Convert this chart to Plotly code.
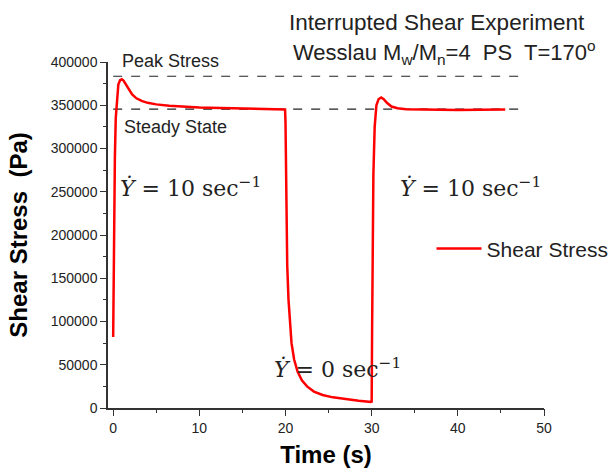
import plotly.graph_objects as go

time_s = [0, 0.05, 0.1, 0.2, 0.3, 0.45, 0.6, 0.8, 1.0, 1.2, 1.5, 1.8, 2.2, 2.7, 3.3, 4, 5, 6.5, 8, 10, 12.5, 15, 17.5, 19.95,
          20.0, 20.05, 20.1, 20.2, 20.35, 20.5, 20.7, 21.0, 21.4, 21.9, 22.5, 23.3, 24.3, 25.5, 27, 28.5, 29.95,
          30.0, 30.05, 30.12, 30.2, 30.35, 30.55, 30.8, 31.1, 31.4, 31.8, 32.3, 33, 34, 36, 38, 40, 42.5, 45.5]
stress_pa = [82000, 150000, 215000, 290000, 335000, 362000, 374000, 379000, 380000, 378500, 374000, 368500, 362500, 358000, 355000, 352800, 351000, 349500, 348500, 347500, 346700, 346100, 345600, 345200,
             330000, 270000, 220000, 165000, 125000, 97000, 75000, 56000, 42000, 32000, 25000, 19000, 15000, 12300, 10000, 8300, 7000,
             6500, 90000, 190000, 270000, 325000, 350000, 357000, 359000, 357000, 352500, 348500, 346500, 345500, 345000, 344700, 344600, 344700, 345000]

peak_stress = 383500
steady_state = 345500
ref_t = [0, 48]
x_range = [-0.6, 50]
y_range = [0, 400000]

fig = go.Figure()
fig.add_trace(go.Scatter(x=ref_t, y=[peak_stress, peak_stress], mode="lines",
                         line=dict(color="#222222", width=1.2, dash="dash"), showlegend=False, hoverinfo="skip"))
fig.add_trace(go.Scatter(x=ref_t, y=[steady_state, steady_state], mode="lines",
                         line=dict(color="#222222", width=1.2, dash="dash"), showlegend=False, hoverinfo="skip"))
fig.add_trace(go.Scatter(x=time_s, y=stress_pa, mode="lines", name="Shear Stress",
                         line=dict(color="#ff0000", width=2.5)))
# invisible traces to host the minor-tick overlay axes
fig.add_trace(go.Scatter(x=[time_s[0]], y=[stress_pa[0]], xaxis="x2", yaxis="y", mode="markers",
                         marker=dict(opacity=0), showlegend=False, hoverinfo="skip"))
fig.add_trace(go.Scatter(x=[time_s[0]], y=[stress_pa[0]], xaxis="x", yaxis="y2", mode="markers",
                         marker=dict(opacity=0), showlegend=False, hoverinfo="skip"))

axis_common = dict(showline=True, linecolor="#333333", linewidth=1.5, ticks="outside", ticklen=6,
                   tickcolor="#333333", tickwidth=1.3, showgrid=False, zeroline=False, tickformat="d",
                   tickfont=dict(family="Liberation Sans, Arial", size=14, color="#222222"))
minor_common = dict(showline=False, ticks="outside", ticklen=4, tickcolor="#333333", tickwidth=1.2,
                    showgrid=False, zeroline=False, showticklabels=False)

fig.update_layout(
    xaxis=dict(range=x_range, dtick=10, tick0=0,
               title=dict(text="<b>Time (s)</b>", font=dict(family="Liberation Sans, Arial", size=24, color="black"), standoff=12),
               **axis_common),
    yaxis=dict(range=y_range, dtick=50000, tick0=0,
               title=dict(text="<b>Shear Stress  (Pa)</b>", font=dict(family="Liberation Sans, Arial", size=24, color="black"), standoff=16),
               **axis_common),
    xaxis2=dict(overlaying="x", anchor="y", side="bottom", range=x_range, dtick=5, tick0=0, **minor_common),
    yaxis2=dict(overlaying="y", anchor="x", side="left", range=y_range, dtick=25000, tick0=0, **minor_common),
)

sans = dict(family="Liberation Sans, Arial", color="#222222")
serif = dict(family="DejaVu Serif, Liberation Serif", size=22, color="#222222")

annotations = [
    dict(x=437, y=20, text="Interrupted Shear Experiment", font=dict(size=22.5, **sans)),
    dict(x=444, y=50, text="Wesslau M<sub>w</sub>/M<sub>n</sub>=4  PS  T=170<sup>o</sup>", font=dict(size=22, **sans)),
    dict(x=170, y=59, text="Peak Stress", font=dict(size=18, **sans)),
    dict(x=175, y=125, text="Steady State", font=dict(size=18, **sans)),
    dict(x=190, y=186, text="<i>Ẏ</i> = 10 sec<sup>−1</sup>", font=serif),
    dict(x=470, y=186, text="<i>Ẏ</i> = 10 sec<sup>−1</sup>", font=serif),
    dict(x=337, y=368, text="<i>Ẏ</i> = 0 sec<sup>−1</sup>", font=serif),
]
ann = []
for a in annotations:
    ann.append(dict(xref="paper", yref="paper", x=(a["x"] - 108) / 436, y=(408 - a["y"]) / 348,
                    xanchor="center", yanchor="middle", showarrow=False, text=a["text"], font=a["font"]))

fig.update_layout(
    width=616, height=470,
    margin=dict(l=108, r=72, t=62, b=62, autoexpand=False),
    plot_bgcolor="white", paper_bgcolor="white",
    annotations=ann,
    legend=dict(x=0.742, y=0.46, xanchor="left", yanchor="middle", bgcolor="rgba(0,0,0,0)", itemwidth=45,
                font=dict(family="Liberation Sans, Arial", size=21, color="#222222")),
)

fig.write_html("out.html")
